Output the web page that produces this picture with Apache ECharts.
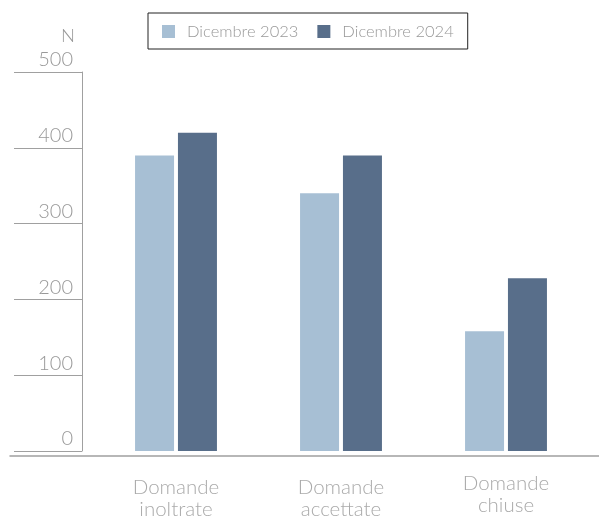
<!DOCTYPE html>
<html>
<head>
<meta charset="utf-8">
<script src="https://cdn.jsdelivr.net/npm/echarts@6/dist/echarts.min.js"></script>
<style>html,body{margin:0;padding:0;background:#fff}#c{width:599px;height:520px}</style>
</head>
<body>
<div id="c"></div>
<script>
const categories = ['Domande\ninoltrate', 'Domande\naccettate', 'Domande\nchiuse'];
const seriesNames = ['Dicembre 2023', 'Dicembre 2024'];
const values2023 = [390, 340, 158];
const values2024 = [420, 390, 228];
const yTicks = [0, 100, 200, 300, 400, 500];

const FONT = 'Lato';
const catData = categories.map((c, i) => i === 2
  ? { value: c, textStyle: { padding: [0, 0, 0, 0] } }
  : { value: c });

const chart = echarts.init(document.getElementById('c'));
chart.setOption({
  animation: false,
  color: ['#a7bfd4', '#586e8a'],
  legend: {
    left: 148, top: 13,
    itemWidth: 13, itemHeight: 13, itemGap: 19,
    icon: 'rect',
    borderColor: '#222', borderWidth: 1, borderRadius: 0,
    padding: [10, 14, 9, 14],
    textStyle: { color: '#999', fontSize: 16.5, fontFamily: FONT, fontWeight: 300, padding: [0, 0, 0, 7] },
    data: seriesNames
  },
  grid: [
    { left: 93.5, right: 10.5, top: 72, bottom: 64 },
    { left: 10, right: 0, top: 72, bottom: 64 }
  ],
  xAxis: [
    {
      type: 'category', gridIndex: 0, data: catData,
      axisLine: { show: false }, axisTick: { show: false },
      axisLabel: { color: '#aaa', fontSize: 20.5, fontFamily: FONT, fontWeight: 300, lineHeight: 22, margin: 21, padding: [4, 0, 0, 0] }
    },
    {
      type: 'value', gridIndex: 1, min: 0, max: 1,
      axisLine: { show: true, lineStyle: { color: '#a0a0a0', width: 1.5 } },
      axisTick: { show: false }, axisLabel: { show: false }, splitLine: { show: false }
    }
  ],
  yAxis: [
    {
      type: 'value', gridIndex: 0, min: yTicks[0], max: yTicks[yTicks.length - 1], interval: 100,
      offset: 11.5,
      name: 'N', nameLocation: 'end', nameGap: 26,
      nameTextStyle: { color: '#999', fontSize: 18.5, fontFamily: FONT, fontWeight: 300, align: 'right', padding: [0, 7, 0, 0] },
      axisLine: { show: true, lineStyle: { color: '#a0a0a0', width: 1 } },
      axisTick: { show: true, length: 68, lineStyle: { color: '#a0a0a0', width: 1 } },
      axisLabel: { color: '#999', fontSize: 20, fontFamily: FONT, fontWeight: 300, margin: 9, verticalAlign: 'bottom', padding: [0, 0, 2, 0] },
      splitLine: { show: false }
    },
    { type: 'value', gridIndex: 1, show: false }
  ],
  series: [
    { name: seriesNames[0], type: 'bar', xAxisIndex: 0, yAxisIndex: 0, data: values2023, barWidth: 39, barGap: '10%' },
    { name: seriesNames[1], type: 'bar', xAxisIndex: 0, yAxisIndex: 0, data: values2024, barWidth: 39, barGap: '10%' }
  ]
});
</script>
</body>
</html>
